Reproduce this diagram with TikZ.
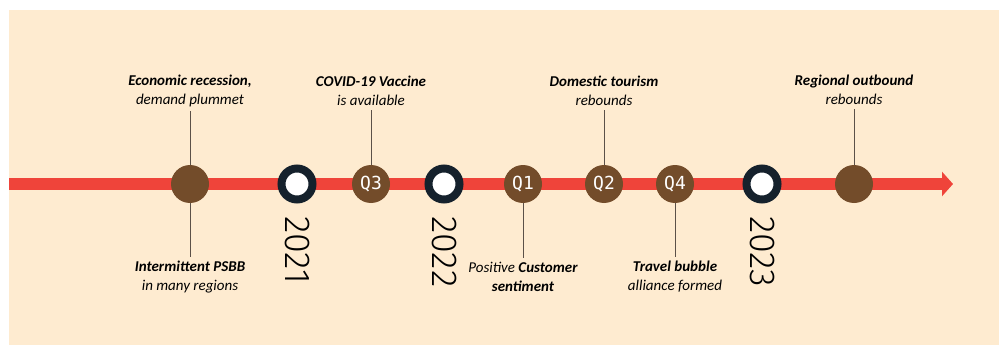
\documentclass[tikz,border=0pt]{standalone}
\usepackage{fontspec}
\setmainfont{Carlito}
\newfontfamily\qfont{DejaVu Sans Mono}
\newfontfamily\yearfont{Fira Sans}[UprightFont=* Light]
\usetikzlibrary{arrows.meta}

\definecolor{bgbeige}{HTML}{FEEBD0}
\definecolor{linered}{HTML}{EF443A}
\definecolor{dotbrown}{HTML}{734C2A}
\definecolor{ringnavy}{HTML}{15212C}
\definecolor{stemgray}{HTML}{5B5048}

\tikzset{
  timeline/.style={line width=12pt, draw=linered, -{Triangle[length=11pt,width=24pt]}},
  event/.style={circle, fill=dotbrown, minimum size=38pt, inner sep=0pt, text=white, font=\qfont\fontsize{18}{18}\selectfont},
  yearring/.style={circle, draw=ringnavy, line width=8pt, fill=white, minimum size=31pt, inner sep=0pt},
  yearlabel/.style={rotate=-90, anchor=west, inner sep=0pt, font=\yearfont\fontsize{36}{36}\selectfont},
  note/.style={align=center, font=\itshape\fontsize{15}{19}\selectfont, inner sep=1pt},
  stem/.style={draw=stemgray, line width=0.8pt, shorten <=3pt}
}

\begin{document}
\begin{tikzpicture}[x=1pt,y=-1pt]
        \useasboundingbox (0,0) rectangle (999,345);

        % Beige panel behind everything
        \fill[bgbeige] (9,10) rectangle (999,345);

        % The red time line
        \coordinate (start) at (9,184);
        \coordinate (end) at (953,184);
        \draw[timeline] (start) -- (end);

        % Year rings
        \node[yearring] (r2021) at (297,184) {};
        \node[yearring] (r2022) at (444,184) {};
        \node[yearring] (r2023) at (762,184) {};
        \node[yearlabel] (y2021) at (297,216) {2021};
        \node[yearlabel] (y2022) at (444,216) {2022};
        \node[yearlabel] (y2023) at (762,216) {2023};

        % Event dots on the line
        \node[event] (e1) at (190,184) {};
        \node[event] (q3) at (371,184) {Q3};
        \node[event] (q1) at (523,184) {Q1};
        \node[event] (q2) at (604,184) {Q2};
        \node[event] (q4) at (675,184) {Q4};
        \node[event] (e2) at (854,184) {};

        % Notes above the line
        \node[note] (recession) at (190,91) {\textbf{Economic recession,}\\demand plummet};
        \node[note] (vaccine) at (371,91) {\textbf{COVID-19 Vaccine}\\is available};
        \node[note] (domestic) at (604,91) {\textbf{Domestic tourism}\\rebounds};
        \node[note] (regional) at (854,90) {\textbf{Regional outbound}\\rebounds};

        % Notes below the line
        \node[note] (psbb) at (190,277) {\textbf{Intermittent PSBB}\\in many regions};
        \node[note] (sentiment) at (523,277) {Positive \textbf{Customer}\\\textbf{sentiment}};
        \node[note] (bubble) at (675,277) {\textbf{Travel bubble}\\alliance formed};

        % Stems from notes to dots
        \draw[stem] (recession.south) -- (e1.north);
        \draw[stem] (vaccine.south) -- (q3.north);
        \draw[stem] (domestic.south) -- (q2.north);
        \draw[stem] (regional.south) -- (e2.north);
        \draw[stem, shorten <=0pt, shorten >=3pt] (e1.south) -- (psbb.north);
        \draw[stem, shorten <=0pt, shorten >=3pt] (q1.south) -- (sentiment.north);
        \draw[stem, shorten <=0pt, shorten >=3pt] (q4.south) -- (bubble.north);
\end{tikzpicture}
\end{document}
